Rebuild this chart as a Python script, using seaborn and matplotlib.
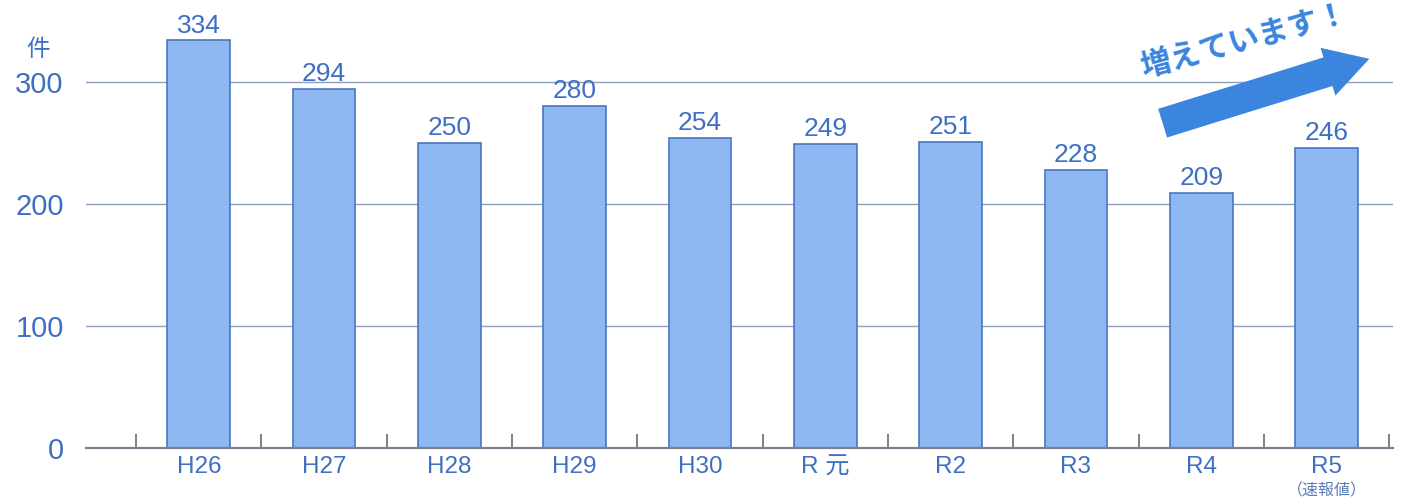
import numpy as np
import pandas as pd
import matplotlib.pyplot as plt
import seaborn as sns

years = ["H26", "H27", "H28", "H29", "H30", "R 元", "R2", "R3", "R4", "R5"]
counts = [334, 294, 250, 280, 254, 249, 251, 228, 209, 246]
yticks = [0, 100, 200, 300]

blue_txt = "#3f6fc4"
bar_fill = "#8db7f0"
bar_edge = "#4a76c0"
arrow_clr = "#3b85df"

df = pd.DataFrame({"year": years, "count": counts})

sns.set_theme(style="white")
plt.rcParams['font.family'] = ['Liberation Sans', 'Noto Sans CJK JP', 'DejaVu Sans']

fig = plt.figure(figsize=(14.03, 5.04), dpi=100)
ax = fig.add_axes([86 / 1403, 56 / 504, 1307 / 1403, 448 / 504])

for y in yticks[1:]:
    ax.axhline(y, color="#8e9dbd", lw=1.0, zorder=0)

sns.barplot(data=df, x="year", y="count", color=bar_fill, width=0.5,
            edgecolor=bar_edge, linewidth=1.2, saturation=1, ax=ax, zorder=2)
ax.bar_label(ax.containers[0], padding=2, fontsize=19, color=blue_txt)

ax.set_xlim(-0.9, 9.53)
ax.set_ylim(0, 367)
ax.set_yticks(yticks)
ax.set_yticklabels([str(v) for v in yticks], fontsize=21, color=blue_txt)
ax.tick_params(axis="y", length=0, pad=16)
ax.set_xticks(range(len(years)))
ax.set_xticklabels(years, fontsize=17.5, color=blue_txt)
ax.tick_params(axis="x", which="major", length=0, pad=6)
ax.set_xticks(np.arange(-0.5, len(years), 1), minor=True)
ax.tick_params(axis="x", which="minor", bottom=True, direction="in", length=10,
               width=1.3, color="#6f7585")
ax.set_xlabel("")
ax.set_ylabel("")
for s in ["top", "right", "left"]:
    ax.spines[s].set_visible(False)
ax.spines["bottom"].set_color("#7a808e")
ax.spines["bottom"].set_linewidth(1.6)
ax.patch.set_alpha(0)

# sub-label under R5
ax.text(9, -0.078, "（速報値）", transform=ax.get_xaxis_transform(),
        ha="center", va="top", fontsize=11.5, color="#5a7cb8")

# unit label
fig.text(38 / 1403, 1 - 50 / 504, "件", ha="center", va="center",
         fontsize=17, color=blue_txt)

# trend arrow
ax.annotate("", xy=(1372 / 1403, 1 - 58 / 504), xycoords="figure fraction",
            xytext=(1160 / 1403, 1 - 124 / 504), textcoords="figure fraction",
            arrowprops=dict(arrowstyle="simple,head_length=1.3,head_width=1.5,tail_width=0.9",
                            mutation_scale=24, color=arrow_clr, lw=0))
fig.text(1245 / 1403, 1 - 42 / 504, "増えています！", ha="center", va="center",
         rotation=15, fontsize=22, fontweight="bold", color=arrow_clr)

fig.savefig("out.png", dpi=100, facecolor="white")
